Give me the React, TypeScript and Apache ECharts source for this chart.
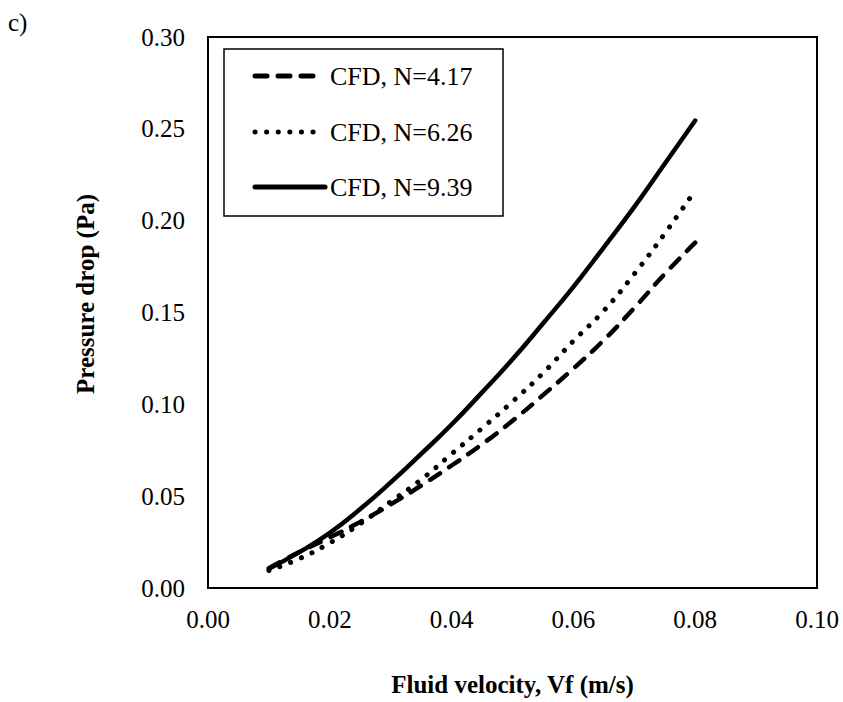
import React, { useEffect, useRef } from "react";
import * as echarts from "echarts";

const velocities = [0.01, 0.015, 0.02, 0.025, 0.03, 0.035, 0.04, 0.045, 0.05, 0.055, 0.06, 0.065, 0.07, 0.075, 0.08];
const dropN417 = [0.0108, 0.0196, 0.0275, 0.036, 0.0455, 0.0558, 0.0667, 0.0783, 0.091, 0.105, 0.1195, 0.135, 0.1525, 0.171, 0.188];
const dropN626 = [0.0095, 0.016, 0.0245, 0.035, 0.047, 0.059, 0.073, 0.087, 0.1015, 0.117, 0.1345, 0.151, 0.171, 0.193, 0.2165];
const dropN939 = [0.0105, 0.0195, 0.03, 0.043, 0.0575, 0.073, 0.089, 0.1065, 0.1245, 0.144, 0.164, 0.1855, 0.2075, 0.231, 0.2545];
const seriesNames = ["CFD, N=4.17", "CFD, N=6.26", "CFD, N=9.39"];
const xTicks = [0, 0.02, 0.04, 0.06, 0.08, 0.1];
const yTicks = [0, 0.05, 0.1, 0.15, 0.2, 0.25, 0.3];

const FONT = '"Liberation Serif", "Times New Roman", serif';
const dashPattern = [12, 11];
const dotPattern = [0.1, 11.5];

export default function App() {
  const ref = useRef<HTMLDivElement>(null);
  useEffect(() => {
    if (!ref.current) return;
    const chart = echarts.init(ref.current, undefined, { renderer: "svg" });
    const pairs = (ys: number[]) => velocities.map((v, i) => [v, ys[i]]);
    const styles = [
      { type: dashPattern, width: 4.5 },
      { type: dotPattern, width: 5 },
      { type: "solid", width: 4.5 },
    ];
    const allData = [dropN417, dropN626, dropN939];
    const legendX = 253;
    const legendRows = [76, 132, 187];
    const legendGraphics: any[] = [
      {
        type: "rect",
        shape: { x: 224, y: 49, width: 279, height: 167 },
        style: { fill: "#fff", stroke: "#000", lineWidth: 1.5 },
        z: 10,
      },
    ];
    seriesNames.forEach((name, i) => {
      legendGraphics.push({
        type: "line",
        shape: { x1: legendX + 2, y1: legendRows[i], x2: legendX + (i === 2 ? 72 : 62), y2: legendRows[i] },
        style: {
          stroke: "#000",
          lineWidth: 5,
          lineCap: "round",
          lineDash: i === 0 ? dashPattern : i === 1 ? dotPattern : undefined,
        },
        z: 11,
      });
      legendGraphics.push({
        type: "text",
        x: 330,
        y: legendRows[i],
        style: {
          text: name,
          fill: "#000",
          font: `26px ${FONT}`,
          verticalAlign: "middle",
          align: "left",
        },
        z: 11,
      });
    });
    chart.setOption({
      animation: false,
      backgroundColor: "#fff",
      grid: {
        left: 208,
        top: 37,
        width: 609,
        height: 556,
        show: true,
        borderColor: "#000",
        borderWidth: 2,
        containLabel: false,
      },
      xAxis: {
        type: "value",
        min: 0,
        max: 0.1,
        interval: 0.02,
        name: "Fluid velocity, Vf (m/s)",
        nameLocation: "middle",
        nameGap: 84,
        nameTextStyle: { fontFamily: FONT, fontWeight: "bold", fontSize: 25, color: "#000" },
        axisLine: { show: true, lineStyle: { color: "#000", width: 2 } },
        axisTick: { show: false },
        splitLine: { show: false },
        axisLabel: {
          fontFamily: FONT,
          fontSize: 25,
          color: "#000",
          margin: 19,
          formatter: (v: number) => (xTicks.some((t) => Math.abs(t - v) < 1e-9) ? v.toFixed(2) : ""),
        },
      },
      yAxis: {
        type: "value",
        min: 0,
        max: 0.3,
        interval: 0.05,
        name: "Pressure drop (Pa)",
        nameLocation: "middle",
        nameGap: 110,
        nameTextStyle: { fontFamily: FONT, fontWeight: "bold", fontSize: 25, color: "#000", padding: [0, 0, 0, 37] },
        axisLine: { show: true, lineStyle: { color: "#000", width: 2 } },
        axisTick: { show: false },
        splitLine: { show: false },
        axisLabel: {
          fontFamily: FONT,
          fontSize: 25,
          color: "#000",
          margin: 23,
          formatter: (v: number) => (yTicks.some((t) => Math.abs(t - v) < 1e-9) ? v.toFixed(2) : ""),
        },
      },
      series: seriesNames.map((name, i) => ({
        name,
        type: "line",
        data: pairs(allData[i]),
        smooth: true,
        showSymbol: false,
        symbol: "none",
        lineStyle: { color: "#000", width: styles[i].width, type: styles[i].type as any, cap: "round", join: "round" },
        z: 3 - i,
      })),
      graphic: [
        {
          type: "text",
          x: 8,
          y: 10,
          style: { text: "c)", fill: "#000", font: `25px ${FONT}` },
        },
        ...legendGraphics,
      ],
    });
    return () => chart.dispose();
  }, []);
  return (
    <div
      ref={ref}
      style={{ position: "fixed", left: 0, top: 0, width: 843, height: 702, background: "#fff" }}
    />
  );
}
